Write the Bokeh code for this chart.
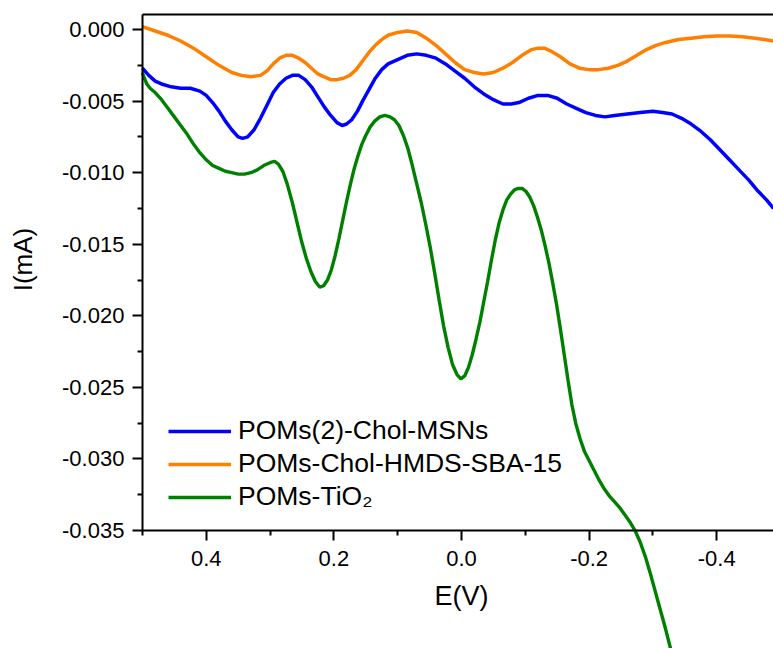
import math
from bokeh.plotting import figure
from bokeh.models import (Range1d, FixedTicker, NumeralTickFormatter, Legend,
                          LegendItem, Label, LinearAxis)
from bokeh.embed import file_html
from bokeh.resources import INLINE

# ---------------- data ----------------
orange_x = [0.50, 0.48, 0.46, 0.44, 0.42, 0.40, 0.38, 0.36, 0.345, 0.33, 0.315,
            0.305, 0.295, 0.285, 0.275, 0.265, 0.255, 0.245, 0.235, 0.225, 0.215,
            0.205, 0.195, 0.185, 0.175, 0.165, 0.155, 0.145, 0.135, 0.125, 0.115,
            0.10, 0.085, 0.07, 0.055, 0.04, 0.025, 0.01, -0.005, -0.02, -0.035,
            -0.05, -0.065, -0.08, -0.095, -0.11, -0.12, -0.13, -0.14, -0.155,
            -0.17, -0.185, -0.2, -0.215, -0.23, -0.245, -0.26, -0.275, -0.29,
            -0.305, -0.32, -0.34, -0.36, -0.38, -0.40, -0.42, -0.44, -0.46, -0.475,
            -0.489]
orange_y = [0.0002, -0.0001, -0.0004, -0.0008, -0.0013, -0.0019, -0.0025, -0.0030,
            -0.0032, -0.0033, -0.0032, -0.0029, -0.0024, -0.0020, -0.0018, -0.0018,
            -0.0020, -0.0023, -0.0027, -0.0031, -0.0033, -0.0035, -0.0035, -0.0034,
            -0.0032, -0.0028, -0.0022, -0.0016, -0.0011, -0.0007, -0.0004, -0.0002,
            -0.0001, -0.0002, -0.0006, -0.0011, -0.0017, -0.0023, -0.0028, -0.0030,
            -0.0031, -0.0030, -0.0027, -0.0023, -0.0018, -0.0014, -0.0013, -0.0013,
            -0.0015, -0.0019, -0.0024, -0.0027, -0.0028, -0.0028, -0.0027, -0.0025,
            -0.0022, -0.0018, -0.0014, -0.0011, -0.0009, -0.0007, -0.0006, -0.0005,
            -0.00045, -0.00045, -0.0005, -0.0006, -0.0007, -0.0008]

blue_x = [0.50, 0.49, 0.48, 0.47, 0.455, 0.44, 0.425, 0.41, 0.40, 0.39, 0.38, 0.37,
          0.36, 0.35, 0.343, 0.335, 0.325, 0.315, 0.305, 0.295, 0.285, 0.275, 0.265,
          0.255, 0.245, 0.235, 0.225, 0.215, 0.205, 0.195, 0.187, 0.18, 0.172,
          0.163, 0.155, 0.145, 0.135, 0.125, 0.115, 0.10, 0.085, 0.07, 0.055, 0.04,
          0.025, 0.01, -0.005, -0.02, -0.035, -0.05, -0.065, -0.078, -0.09, -0.105,
          -0.12, -0.135, -0.15, -0.165, -0.18, -0.195, -0.21, -0.225, -0.24, -0.26,
          -0.28, -0.30, -0.315, -0.33, -0.345, -0.36, -0.375, -0.39, -0.405, -0.42,
          -0.435, -0.45, -0.465, -0.478, -0.489]
blue_y = [-0.0027, -0.0032, -0.0036, -0.0038, -0.0040, -0.0041, -0.0041, -0.0043,
          -0.0046, -0.0051, -0.0057, -0.0064, -0.0070, -0.0075, -0.0076, -0.0075,
          -0.0070, -0.0062, -0.0053, -0.0044, -0.0038, -0.0034, -0.0032, -0.0032,
          -0.0035, -0.0040, -0.0047, -0.0054, -0.0060, -0.0065, -0.0067, -0.0066,
          -0.0063, -0.0057, -0.0050, -0.0042, -0.0034, -0.0028, -0.0024, -0.0021,
          -0.0018, -0.0017, -0.0018, -0.0020, -0.0024, -0.0029, -0.0034, -0.0040,
          -0.0045, -0.0049, -0.0052, -0.0052, -0.0051, -0.0048, -0.0046, -0.0046,
          -0.0048, -0.0052, -0.0055, -0.0058, -0.0060, -0.0061, -0.0060, -0.0059,
          -0.0058, -0.0057, -0.0058, -0.0059, -0.0062, -0.0066, -0.0071, -0.0077,
          -0.0084, -0.0091, -0.0098, -0.0105, -0.0113, -0.0119, -0.0125]

green_x = [0.500, 0.497, 0.493, 0.488, 0.48, 0.47, 0.46, 0.45, 0.44, 0.43, 0.42,
           0.41, 0.40, 0.39, 0.38, 0.37, 0.36, 0.35, 0.34, 0.33, 0.32, 0.31, 0.30,
           0.293, 0.287, 0.28, 0.273, 0.265, 0.257, 0.25, 0.243, 0.236, 0.229,
           0.222, 0.216, 0.21, 0.204, 0.198, 0.192, 0.186, 0.18, 0.174, 0.168,
           0.162, 0.156, 0.15, 0.143, 0.136, 0.128, 0.12, 0.112, 0.105, 0.098,
           0.091, 0.084, 0.077, 0.07, 0.063, 0.056, 0.049, 0.042, 0.035, 0.028,
           0.021, 0.014, 0.007, 0.001, -0.005, -0.011, -0.017, -0.023, -0.029,
           -0.035, -0.041, -0.047, -0.053, -0.059, -0.065, -0.071, -0.077, -0.083,
           -0.089, -0.095, -0.101, -0.107, -0.113, -0.119, -0.125, -0.131, -0.137,
           -0.143, -0.149, -0.155, -0.161, -0.167, -0.173, -0.179, -0.186, -0.193,
           -0.2, -0.208, -0.216, -0.224, -0.232, -0.24, -0.248, -0.256, -0.264,
           -0.272, -0.28, -0.288, -0.296, -0.304, -0.312, -0.32, -0.328]
green_y = [-0.0030, -0.0034, -0.0038, -0.0041, -0.0044, -0.0049, -0.0055, -0.0061,
           -0.0067, -0.0073, -0.0080, -0.0086, -0.0091, -0.0095, -0.0097, -0.0099,
           -0.0100, -0.0101, -0.0101, -0.0100, -0.0098, -0.0095, -0.0093, -0.0092,
           -0.0094, -0.0099, -0.0108, -0.0121, -0.0136, -0.0149, -0.0160, -0.0169,
           -0.0176, -0.0180, -0.0179, -0.0175, -0.0168, -0.0158, -0.0146, -0.0133,
           -0.0120, -0.0108, -0.0097, -0.0088, -0.0080, -0.0074, -0.0068, -0.0064,
           -0.0061, -0.0060, -0.0061, -0.0063, -0.0067, -0.0074, -0.0083, -0.0095,
           -0.0108, -0.0121, -0.0136, -0.0152, -0.0170, -0.0189, -0.0207, -0.0222,
           -0.0234, -0.0241, -0.0244, -0.0242, -0.0236, -0.0227, -0.0216, -0.0204,
           -0.0190, -0.0176, -0.0161, -0.0147, -0.0135, -0.0126, -0.0119, -0.0115,
           -0.0112, -0.0111, -0.0111, -0.0113, -0.0117, -0.0123, -0.0131, -0.0140,
           -0.0151, -0.0163, -0.0177, -0.0192, -0.0209, -0.0227, -0.0245, -0.0262,
           -0.0275, -0.0286, -0.0295, -0.0301, -0.0308, -0.0315, -0.0321, -0.0326,
           -0.0330, -0.0334, -0.0339, -0.0344, -0.0350, -0.0358, -0.0368, -0.0380,
           -0.0393, -0.0406, -0.0419, -0.0433]

series_names = ["POMs(2)-Chol-MSNs", "POMs-Chol-HMDS-SBA-15", "POMs-TiO\u2082"]
x_title = "E(V)"
y_title = "I(mA)"

x_ticks = [0.4, 0.2, 0.0, -0.2, -0.4]
x_minor = [0.5, 0.3, 0.1, -0.1, -0.3]
y_ticks = [0.0, -0.005, -0.010, -0.015, -0.020, -0.025, -0.030, -0.035]
y_minor = [-0.0025, -0.0075, -0.0125, -0.0175, -0.0225, -0.0275, -0.0325]

# axis extents (data units) and view extents
X_AXIS_START, X_END = 0.5, -0.489
X_VIEW_START = 0.7224
Y_AXIS_TOP, Y_AXIS_MIN = 0.00105, -0.035
Y_VIEW_TOP, Y_VIEW_BOTTOM = 0.00203, -0.04324

FONT = "Liberation Sans"

p = figure(width=773, height=648, output_backend="svg", toolbar_location=None,
           x_range=Range1d(X_VIEW_START, X_END),
           y_range=Range1d(Y_VIEW_BOTTOM, Y_VIEW_TOP),
           min_border_left=0, min_border_top=0, min_border_right=0,
           min_border_bottom=0, outline_line_color=None)
p.grid.visible = False
p.background_fill_color = "white"
p.border_fill_color = "white"

r_blue = p.line(blue_x, blue_y, line_color="#0000ff", line_width=3.5)
r_orange = p.line(orange_x, orange_y, line_color="#ff7f00", line_width=3.5)
r_green = p.line(green_x, green_y, line_color="#008000", line_width=3.4)

# y axis
ya = p.yaxis[0]
ya.ticker = FixedTicker(ticks=y_ticks, minor_ticks=y_minor)
ya.formatter = NumeralTickFormatter(format="0.000")
ya.fixed_location = X_AXIS_START
ya.bounds = (Y_AXIS_MIN, Y_AXIS_TOP)

# x axis
xa = p.xaxis[0]
xa.ticker = FixedTicker(ticks=x_ticks, minor_ticks=x_minor)
xa.formatter = NumeralTickFormatter(format="0.0")
xa.fixed_location = Y_AXIS_MIN
xa.bounds = (X_AXIS_START, X_END)

for ax in (xa, ya):
    ax.axis_line_width = 2
    ax.axis_line_color = "black"
    ax.major_tick_line_color = "black"
    ax.minor_tick_line_color = "black"
    ax.major_tick_line_width = 2
    ax.minor_tick_line_width = 2
    ax.major_tick_in = 0
    ax.minor_tick_in = 0
    ax.major_tick_out = 10
    ax.minor_tick_out = 5
    ax.major_label_text_font = FONT
    ax.major_label_text_font_size = "22px"
    ax.major_label_text_color = "black"

xa.major_label_standoff = 10
ya.major_label_standoff = 8

# top frame line (tickless axis)
top_axis = LinearAxis(fixed_location=Y_AXIS_TOP, bounds=(X_AXIS_START, X_END),
                      axis_line_width=2, axis_line_color="black",
                      major_tick_line_color=None, minor_tick_line_color=None,
                      major_label_text_alpha=0, major_label_text_font_size="1px")
p.add_layout(top_axis, "above")

# axis titles
p.add_layout(Label(x=461, y=53, x_units="screen", y_units="screen", text=x_title,
                   text_font=FONT, text_font_size="27px", text_color="black",
                   text_align="center", text_baseline="alphabetic"))
p.add_layout(Label(x=22, y=389, x_units="screen", y_units="screen", text=y_title,
                   angle=math.pi / 2, text_font=FONT, text_font_size="26px",
                   text_color="black", text_align="center",
                   text_baseline="alphabetic"))

legend = Legend(items=[LegendItem(label=series_names[0], renderers=[r_blue]),
                       LegendItem(label=series_names[1], renderers=[r_orange]),
                       LegendItem(label=series_names[2], renderers=[r_green])],
                location=(168, 136), border_line_color=None,
                background_fill_alpha=0, padding=0, margin=0, spacing=2,
                glyph_width=63, glyph_height=20, label_height=20,
                label_standoff=7, label_text_font=FONT,
                label_text_font_size="26.5px", label_text_color="black")
p.add_layout(legend)

open("out.html", "w").write(file_html(p, INLINE))
